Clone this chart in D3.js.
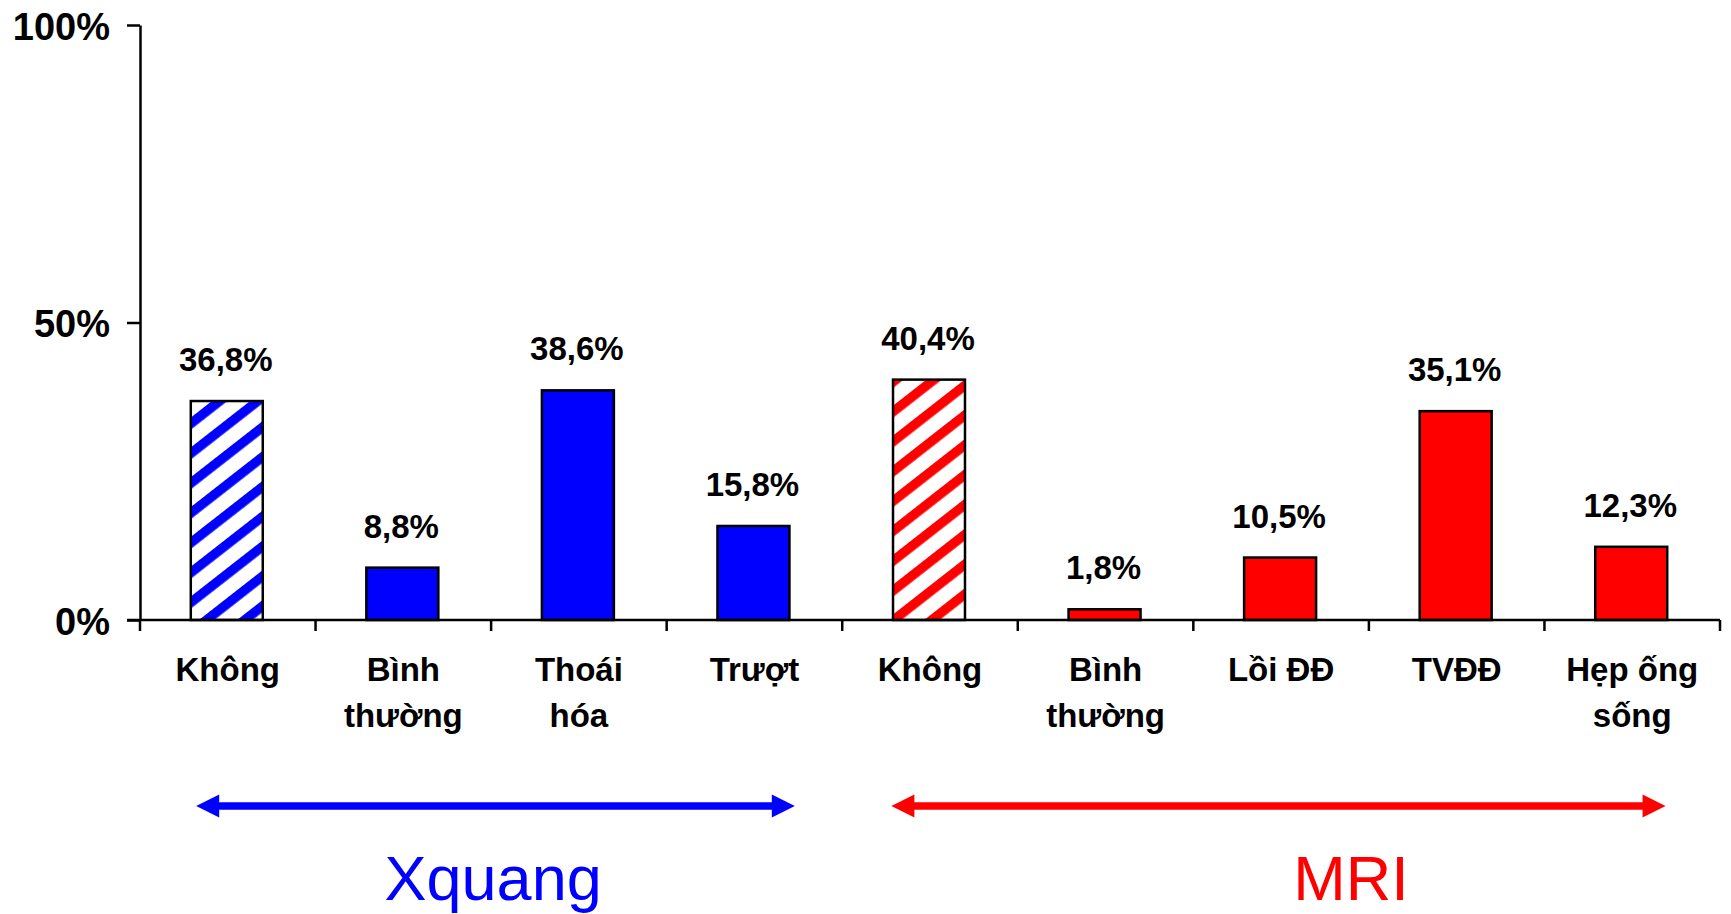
<!DOCTYPE html>
<html>
<head>
<meta charset="utf-8">
<script src="https://cdn.jsdelivr.net/npm/d3@7/dist/d3.min.js"></script>
<style>
  html, body { margin: 0; padding: 0; background: #fff; }
  svg { display: block; }
  text { font-family: "Liberation Sans", Arial, sans-serif; }
</style>
</head>
<body>
<svg id="chart" width="1731" height="914"></svg>
<script>
// Category labels (line breaks marked with \n)
const categories = [
  "Không", "Bình\nthường", "Thoái\nhóa", "Trượt",
  "Không", "Bình\nthường", "Lồi ĐĐ", "TVĐĐ", "Hẹp ống\nsống"
];
// Percentages per category
const values = [36.8, 8.8, 38.6, 15.8, 40.4, 1.8, 10.5, 35.1, 12.3];
// Which group each category belongs to (0 = Xquang, 1 = MRI)
const groupOf = [0, 0, 0, 0, 1, 1, 1, 1, 1];
// Bars drawn with a diagonal hatch instead of a solid fill
const hatched = [true, false, false, false, true, false, false, false, false];
// Group names and their colours
const groupNames = ["Xquang", "MRI"];
const groupColors = ["#0000ff", "#ff0000"];
// Y axis ticks
const yTicks = [0, 50, 100];
const yTickLabels = ["0%", "50%", "100%"];

(function draw() {
  const svg = d3.select("#chart");
  const plotLeft = 140, plotRight = 1720, plotTop = 25, plotBottom = 620;

  const x = d3.scaleBand().domain(d3.range(categories.length)).range([plotLeft, plotRight]).padding(0);
  const y = d3.scaleLinear().domain([0, 100]).range([plotBottom, plotTop]);
  const bw = x.bandwidth();
  const barW = bw * 0.41;

  // Diagonal hatch patterns, one per group colour
  const defs = svg.append("defs");
  groupColors.forEach((c, i) => {
    const p = defs.append("pattern")
      .attr("id", "hatch" + i)
      .attr("patternUnits", "userSpaceOnUse")
      .attr("width", 23.5).attr("height", 23.5)
      .attr("patternTransform", "rotate(52)");
    p.append("rect").attr("width", 23.5).attr("height", 23.5).attr("fill", "#fff");
    p.append("rect").attr("x", 0).attr("width", 9.5).attr("height", 23.5).attr("fill", c);
  });

  // Bars
  svg.append("g").selectAll("rect")
    .data(values)
    .join("rect")
    .attr("x", (d, i) => x(i) + bw / 2 - barW / 2 - 1)
    .attr("y", d => y(d))
    .attr("width", barW)
    .attr("height", d => y(0) - y(d))
    .attr("fill", (d, i) => hatched[i] ? `url(#hatch${groupOf[i]})` : groupColors[groupOf[i]])
    .attr("stroke", "#000")
    .attr("stroke-width", 2.5);

  // Value labels above bars
  svg.append("g").selectAll("text")
    .data(values)
    .join("text")
    .attr("x", (d, i) => x(i) + bw / 2 - 2)
    .attr("y", d => y(d) - 30)
    .attr("text-anchor", "middle")
    .attr("font-size", 33)
    .attr("font-weight", "bold")
    .text(d => d.toFixed(1).replace(".", ",") + "%");

  // Y axis
  const yAxis = d3.axisLeft(y)
    .tickValues(yTicks)
    .tickFormat((d, i) => yTickLabels[i])
    .tickSize(13)
    .tickPadding(17)
    .tickSizeOuter(0);
  const gy = svg.append("g").attr("transform", `translate(${plotLeft},0)`).call(yAxis);
  gy.select(".domain").attr("stroke", "#000").attr("stroke-width", 2.5);
  gy.selectAll(".tick line").attr("stroke", "#000").attr("stroke-width", 2.5);
  gy.selectAll(".tick text")
    .attr("font-family", "'Liberation Sans', Arial, sans-serif")
    .attr("font-size", 38).attr("font-weight", "bold").attr("fill", "#000")
    .attr("dy", "0.38em");

  // X axis: ticks at category boundaries
  const boundaries = d3.range(categories.length + 1).map(i => plotLeft + i * bw);
  const gx = svg.append("g");
  gx.append("line")
    .attr("x1", plotLeft - 13).attr("x2", plotRight)
    .attr("y1", plotBottom).attr("y2", plotBottom)
    .attr("stroke", "#000").attr("stroke-width", 2.5);
  gx.selectAll("line.tick")
    .data(boundaries)
    .join("line")
    .attr("class", "tick")
    .attr("x1", d => d).attr("x2", d => d)
    .attr("y1", plotBottom).attr("y2", plotBottom + 11)
    .attr("stroke", "#000").attr("stroke-width", 2.5);

  // Category labels
  const catText = svg.append("g").selectAll("text")
    .data(categories)
    .join("text")
    .attr("x", (d, i) => x(i) + bw / 2)
    .attr("y", 681)
    .attr("text-anchor", "middle")
    .attr("font-size", 33)
    .attr("font-weight", "bold");
  catText.each(function(d, i) {
    const t = d3.select(this);
    d.split("\n").forEach((line, k) => {
      t.append("tspan")
        .attr("x", x(i) + bw / 2)
        .attr("dy", k === 0 ? 0 : 46)
        .text(line);
    });
  });

  // Group spans: double-headed arrows with group names underneath
  const arrowY = 806, headLen = 23, headHalf = 11.5, lineW = 7.5;
  const insetStart = [0.32, 0.28], insetEnd = [0.73, 0.69];
  const nameShift = [2, 70];
  groupNames.forEach((name, g) => {
    const idx = groupOf.map((v, i) => v === g ? i : -1).filter(i => i >= 0);
    const x0 = x(idx[0]) + bw * insetStart[g];
    const x1 = x(idx[idx.length - 1]) + bw * insetEnd[g];
    const col = groupColors[g];
    const ga = svg.append("g");
    ga.append("line")
      .attr("x1", x0 + headLen - 1).attr("x2", x1 - headLen + 1)
      .attr("y1", arrowY).attr("y2", arrowY)
      .attr("stroke", col).attr("stroke-width", lineW);
    ga.append("path")
      .attr("d", `M${x0},${arrowY} L${x0 + headLen},${arrowY - headHalf} L${x0 + headLen},${arrowY + headHalf} Z`)
      .attr("fill", col);
    ga.append("path")
      .attr("d", `M${x1},${arrowY} L${x1 - headLen},${arrowY - headHalf} L${x1 - headLen},${arrowY + headHalf} Z`)
      .attr("fill", col);
    ga.append("text")
      .attr("x", (x(idx[0]) + x(idx[idx.length - 1]) + bw) / 2 + nameShift[g])
      .attr("y", 900)
      .attr("text-anchor", "middle")
      .attr("font-size", 63)
      .attr("fill", col)
      .text(name);
  });
})();
</script>
</body>
</html>
